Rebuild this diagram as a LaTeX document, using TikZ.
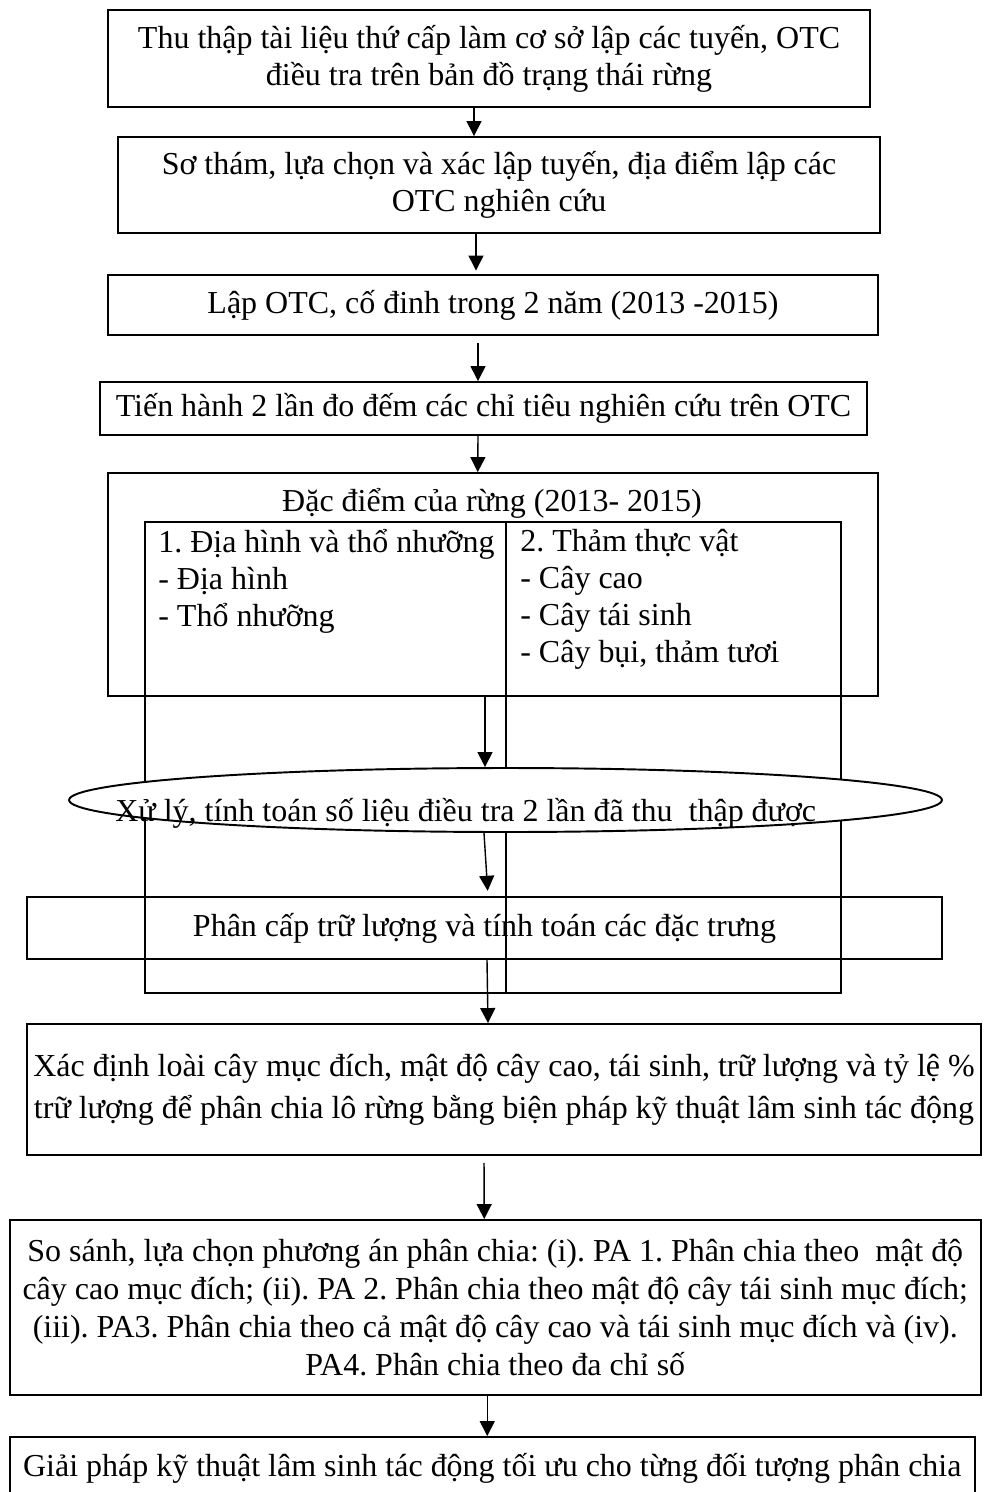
\documentclass[tikz,border=0pt]{standalone}
\usepackage{fontspec}
\setmainfont{Liberation Serif}
\usetikzlibrary{arrows.meta,shapes.geometric,calc}
\frenchspacing

\begin{document}
\begin{tikzpicture}[x=0.02cm,y=-0.02cm]
\tikzset{
	box/.style={rectangle, draw=black, line width=1.1pt, inner sep=0pt, align=center, font=\fontsize{18.2}{21}\selectfont},
	oval/.style={ellipse, draw=black, line width=1.1pt, fill=white, inner sep=0pt},
	txt/.style={inner sep=0pt, align=left, font=\fontsize{18.2}{21}\selectfont},
	arr/.style={-{Triangle[width=0.3cm,length=0.3cm]}, line width=0.8pt}
}
\useasboundingbox (0,0) rectangle (991,1492);
\clip (0,0) rectangle (991,1492);

% cac buoc dau
\node[box, minimum width=15.26cm, minimum height=1.94cm] (b1) at (489,58.5) {Thu thập tài liệu thứ cấp làm cơ sở lập các tuyến, OTC\\điều tra trên bản đồ trạng thái rừng};
\node[box, minimum width=15.24cm, minimum height=1.92cm] (b2) at (499,185) {Sơ thám, lựa chọn và xác lập tuyến, địa điểm lập các\\OTC nghiên cứu};
\node[box, minimum width=15.4cm, minimum height=1.2cm] (b3) at (493,305) {Lập OTC, cố đinh trong 2 năm (2013 -2015)};
\node[box, minimum width=15.34cm, minimum height=1.06cm] (b4) at (483.5,408.5) {Tiến hành 2 lần đo đếm các chỉ tiêu nghiên cứu trên OTC};

% dac diem cua rung
\node[box, minimum width=15.4cm, minimum height=4.46cm] (dacdiem) at (492.75,584.5) {};
\node[txt] (tieude) at (492,503) {Đặc điểm của rừng (2013- 2015)};
\draw[line width=0.9pt] (145,522) rectangle (841,993);
\draw[line width=0.9pt] (506,522) -- (506,993);
\node[txt, anchor=north west] (cot1) at (158,529) {1. Địa hình và thổ nhưỡng\\- Địa hình\\- Thổ nhưỡng};
\node[txt, anchor=north west] (cot2) at (520,529) {2. Thảm thực vật\\- Cây cao\\- Cây tái sinh\\- Cây bụi, thảm tươi};

% xu ly so lieu
\node[oval, minimum width=17.46cm, minimum height=1.28cm] (xuly) at (505.5,800) {};
\node[txt, anchor=west] (xulyt) at (115,813) {Xử lý, tính toán số liệu điều tra 2 lần đã thu\ \ thập được};
\node[box, minimum width=18.3cm, minimum height=1.24cm] (b7) at (484.5,928) {Phân cấp trữ lượng và tính toán các đặc trưng};

% cac buoc cuoi
\node[box, minimum width=19.08cm, minimum height=2.62cm, font=\fontsize{18.2}{24}\selectfont] (b8) at (504,1089.5) {Xác định loài cây mục đích, mật độ cây cao, tái sinh, trữ lượng và tỷ lệ \%\\trữ lượng để phân chia lô rừng bằng biện pháp kỹ thuật lâm sinh tác động};
\node[box, minimum width=19.42cm, minimum height=3.5cm, font=\fontsize{18.2}{21.6}\selectfont] (b9) at (495.25,1307.5) {So sánh, lựa chọn phương án phân chia: (i). PA 1. Phân chia theo\ \ mật độ\\cây cao mục đích; (ii). PA 2. Phân chia theo mật độ cây tái sinh mục đích;\\(iii). PA3. Phân chia theo cả mật độ cây cao và tái sinh mục đích và (iv).\\PA4. Phân chia theo đa chỉ số};
\node[box, minimum width=19.31cm, minimum height=1.24cm] (b10) at (492.25,1468) {Giải pháp kỹ thuật lâm sinh tác động tối ưu cho từng đối tượng phân chia};

% mui ten
\draw[arr] ($(b1.south)+(-15,0)$) -- ($(b2.north)+(-25,0)$);
\draw[arr, shorten >=2pt] ($(b2.south)+(-23,0)$) -- ($(b3.north)+(-17,0)$);
\draw[arr, shorten <=4pt] ($(b3.south)+(-15,0)$) -- ($(b4.north)+(-5.5,0)$);
\draw[arr] ($(b4.south)+(-5.5,0)$) -- ($(dacdiem.north)+(-15,0)$);
\draw[arr] ($(dacdiem.south)+(-7.75,0)$) -- ($(xuly.north)+(-20.5,0)$);
\draw[arr, shorten >=3pt] ($(xuly.south)+(-21.5,0)$) -- ($(b7.north)+(3.5,0)$);
\draw[arr] ($(b7.south)+(2.5,0)$) -- ($(b8.north)+(-16,0)$);
\draw[arr, shorten <=4pt] ($(b8.south)+(-20,0)$) -- ($(b9.north)+(-11,0)$);
\draw[arr] ($(b9.south)+(-8,0)$) -- ($(b10.north)+(-5,0)$);

\end{tikzpicture}
\end{document}
